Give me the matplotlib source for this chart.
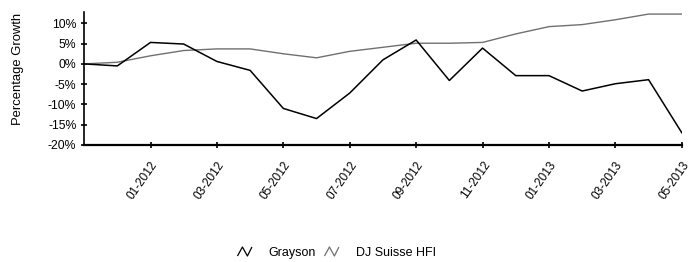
import matplotlib
matplotlib.use("Agg")
import matplotlib.pyplot as plt
from matplotlib.path import Path
from matplotlib.lines import Line2D

months = list(range(19))
grayson = [0, -0.5, 5.3, 4.9, 0.6, -1.6, -11.0, -13.5, -7.2, 1.0, 5.9, -4.1, 3.9,
           -2.9, -2.9, -6.7, -4.9, -3.9, -17.0]
dj_suisse = [0, 0.4, 2.0, 3.3, 3.7, 3.7, 2.5, 1.5, 3.1, 4.1, 5.1, 5.1, 5.3,
             7.4, 9.2, 9.7, 10.9, 12.3, 12.3]
tick_months = [2, 4, 6, 8, 10, 12, 14, 16, 18]
tick_labels = ["01-2012", "03-2012", "05-2012", "07-2012", "09-2012",
               "11-2012", "01-2013", "03-2013", "05-2013"]
y_ticks = [10, 5, 0, -5, -10, -15, -20]
y_labels = ["10%", "5%", "0%", "-5%", "-10%", "-15%", "-20%"]

plt.rcParams['font.family'] = ['Liberation Sans', 'DejaVu Sans']

fig = plt.figure(figsize=(6.95, 2.62), dpi=100)
ax = fig.add_axes([0.121, 0.447, 0.860, 0.507])

ax.plot(months, dj_suisse, color='#707070', lw=1.0, label='DJ Suisse HFI')
ax.plot(months, grayson, color='black', lw=1.1, label='Grayson')

ax.set_xlim(0, 18)
ax.set_ylim(-20, 12.8)
ax.set_xticks(tick_months)
ax.set_xticklabels(tick_labels, rotation=55, ha='right', rotation_mode='anchor', fontsize=8.5)
ax.set_yticks(y_ticks)
ax.set_yticklabels(y_labels, fontsize=8.8)
ax.tick_params(axis='both', direction='inout', length=5, width=1.2, pad=3)
ax.tick_params(axis='x', pad=8)
for s in ['top', 'right']:
    ax.spines[s].set_visible(False)
ax.spines['left'].set_linewidth(1.2)
ax.spines['bottom'].set_linewidth(1.6)
ax.set_ylabel('Percentage Growth', fontsize=9.4)
ax.yaxis.set_label_coords(-0.1, 0.57)

zig = Path([(-1, -0.5), (-0.45, 0.5), (0.1, -0.5), (0.6, 0.5)],
           [Path.MOVETO, Path.LINETO, Path.LINETO, Path.LINETO])
h1 = Line2D([], [], ls='none', marker=zig, markersize=13, markerfacecolor='none',
            markeredgecolor='black', markeredgewidth=0.9)
h2 = Line2D([], [], ls='none', marker=zig, markersize=13, markerfacecolor='none',
            markeredgecolor='#707070', markeredgewidth=0.9)
fig.legend([h1, h2], ['Grayson', 'DJ Suisse HFI'], loc='center',
           bbox_to_anchor=(0.483, 0.035), ncol=2, frameon=False, fontsize=9,
           handlelength=1.6, handletextpad=1.0, columnspacing=0.6)

fig.savefig('out.png', dpi=100)
